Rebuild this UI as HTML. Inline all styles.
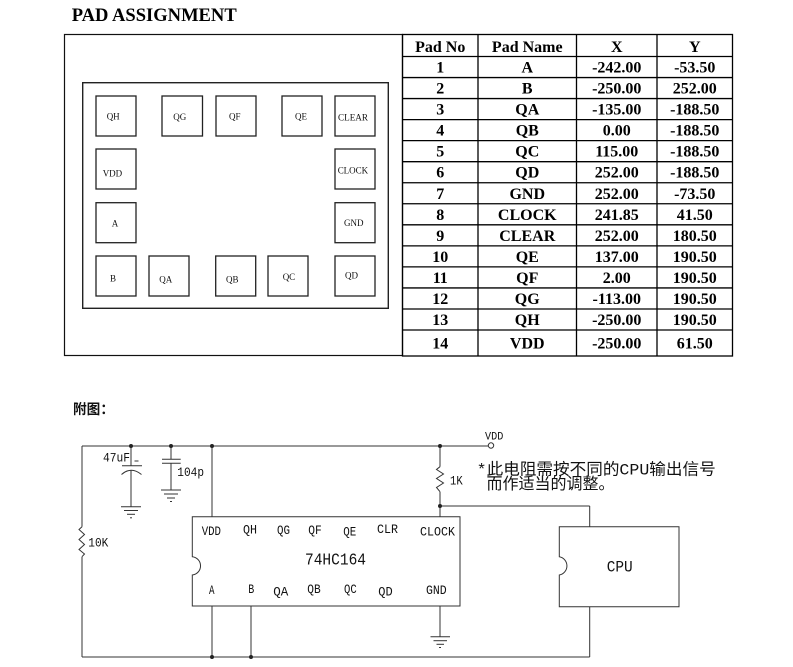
<!DOCTYPE html>
<html><head><meta charset="utf-8"><style>
html,body{margin:0;padding:0;background:#fff;}
svg{display:block;}
.tb{font-family:"Liberation Serif",serif;font-weight:bold;font-size:16px;fill:#000;text-anchor:middle;}
.pd{font-family:"Liberation Serif",serif;font-size:9px;fill:#111;}
.sc{font-family:"Liberation Mono",monospace;font-size:13px;fill:#111;}
.cj{font-family:"Liberation Mono","Noto Sans CJK SC",sans-serif;font-size:16px;fill:#111;}
</style></head><body>
<svg width="793" height="667" viewBox="0 0 793 667" xmlns="http://www.w3.org/2000/svg">
<rect width="793" height="667" fill="#fff"/>
<text x="71.7" y="21" font-family="Liberation Serif, serif" font-weight="bold" font-size="19" textLength="165" lengthAdjust="spacingAndGlyphs">PAD ASSIGNMENT</text>

<!-- left pad box -->
<rect x="64.5" y="34.5" width="338" height="321" fill="none" stroke="#111" stroke-width="1.2"/>
<rect x="82.7" y="82.7" width="305.6" height="225.6" fill="none" stroke="#222" stroke-width="1.4"/>
<g fill="none" stroke="#222" stroke-width="1.3">
<rect x="96" y="96" width="40" height="40"/>
<rect x="162" y="96" width="40.5" height="40"/>
<rect x="216" y="96" width="40" height="40"/>
<rect x="282" y="96" width="40" height="40"/>
<rect x="335" y="96" width="40" height="40"/>
<rect x="96" y="149" width="40" height="40"/>
<rect x="335" y="149" width="40" height="40"/>
<rect x="96" y="202.7" width="40" height="40"/>
<rect x="335" y="202.7" width="40" height="40"/>
<rect x="96" y="256" width="40" height="40"/>
<rect x="149" y="256" width="40" height="40"/>
<rect x="215.7" y="256" width="40" height="40"/>
<rect x="268" y="256" width="40" height="40"/>
<rect x="335" y="256" width="40" height="40"/>
</g>
<g class="pd">
<text x="106.7" y="119.5">QH</text>
<text x="173.3" y="120">QG</text>
<text x="229" y="119.5">QF</text>
<text x="295" y="119.5">QE</text>
<text x="338" y="120.7" textLength="30" lengthAdjust="spacingAndGlyphs">CLEAR</text>
<text x="102.7" y="176.7">VDD</text>
<text x="337.7" y="173.3" textLength="30.5" lengthAdjust="spacingAndGlyphs">CLOCK</text>
<text x="111.7" y="226.7">A</text>
<text x="344" y="226">GND</text>
<text x="110" y="281.7">B</text>
<text x="159.3" y="282.7">QA</text>
<text x="226" y="282.7">QB</text>
<text x="282.7" y="280">QC</text>
<text x="345" y="278.3">QD</text>
</g>

<!-- table -->
<g stroke="#000" stroke-width="1.3" fill="none">
<rect x="402.5" y="34.5" width="330" height="321.5"/>
<line x1="478" y1="34.5" x2="478" y2="356"/>
<line x1="576.5" y1="34.5" x2="576.5" y2="356"/>
<line x1="657" y1="34.5" x2="657" y2="356"/>
<line x1="402.5" y1="56.5" x2="732.5" y2="56.5"/>
<line x1="402.5" y1="77.54" x2="732.5" y2="77.54"/>
<line x1="402.5" y1="98.58" x2="732.5" y2="98.58"/>
<line x1="402.5" y1="119.62" x2="732.5" y2="119.62"/>
<line x1="402.5" y1="140.66" x2="732.5" y2="140.66"/>
<line x1="402.5" y1="161.7" x2="732.5" y2="161.7"/>
<line x1="402.5" y1="182.74" x2="732.5" y2="182.74"/>
<line x1="402.5" y1="203.78" x2="732.5" y2="203.78"/>
<line x1="402.5" y1="224.82" x2="732.5" y2="224.82"/>
<line x1="402.5" y1="245.86" x2="732.5" y2="245.86"/>
<line x1="402.5" y1="266.9" x2="732.5" y2="266.9"/>
<line x1="402.5" y1="287.94" x2="732.5" y2="287.94"/>
<line x1="402.5" y1="308.98" x2="732.5" y2="308.98"/>
<line x1="402.5" y1="330" x2="732.5" y2="330"/>
</g>
<g class="tb">
<text x="440.25" y="51.8">Pad No</text><text x="527.25" y="51.8">Pad Name</text><text x="616.75" y="51.8">X</text><text x="694.75" y="51.8">Y</text>
<text x="440.25" y="72.5">1</text><text x="527.25" y="72.5">A</text><text x="616.75" y="72.5">-242.00</text><text x="694.75" y="72.5">-53.50</text>
<text x="440.25" y="93.5">2</text><text x="527.25" y="93.5">B</text><text x="616.75" y="93.5">-250.00</text><text x="694.75" y="93.5">252.00</text>
<text x="440.25" y="114.6">3</text><text x="527.25" y="114.6">QA</text><text x="616.75" y="114.6">-135.00</text><text x="694.75" y="114.6">-188.50</text>
<text x="440.25" y="135.6">4</text><text x="527.25" y="135.6">QB</text><text x="616.75" y="135.6">0.00</text><text x="694.75" y="135.6">-188.50</text>
<text x="440.25" y="156.7">5</text><text x="527.25" y="156.7">QC</text><text x="616.75" y="156.7">115.00</text><text x="694.75" y="156.7">-188.50</text>
<text x="440.25" y="177.7">6</text><text x="527.25" y="177.7">QD</text><text x="616.75" y="177.7">252.00</text><text x="694.75" y="177.7">-188.50</text>
<text x="440.25" y="198.8">7</text><text x="527.25" y="198.8">GND</text><text x="616.75" y="198.8">252.00</text><text x="694.75" y="198.8">-73.50</text>
<text x="440.25" y="219.8">8</text><text x="527.25" y="219.8">CLOCK</text><text x="616.75" y="219.8">241.85</text><text x="694.75" y="219.8">41.50</text>
<text x="440.25" y="240.8">9</text><text x="527.25" y="240.8">CLEAR</text><text x="616.75" y="240.8">252.00</text><text x="694.75" y="240.8">180.50</text>
<text x="440.25" y="261.9">10</text><text x="527.25" y="261.9">QE</text><text x="616.75" y="261.9">137.00</text><text x="694.75" y="261.9">190.50</text>
<text x="440.25" y="282.9">11</text><text x="527.25" y="282.9">QF</text><text x="616.75" y="282.9">2.00</text><text x="694.75" y="282.9">190.50</text>
<text x="440.25" y="304">12</text><text x="527.25" y="304">QG</text><text x="616.75" y="304">-113.00</text><text x="694.75" y="304">190.50</text>
<text x="440.25" y="325">13</text><text x="527.25" y="325">QH</text><text x="616.75" y="325">-250.00</text><text x="694.75" y="325">190.50</text>
<text x="440.25" y="348.3">14</text><text x="527.25" y="348.3">VDD</text><text x="616.75" y="348.3">-250.00</text><text x="694.75" y="348.3">61.50</text>
</g>

<!-- schematic -->
<text x="73" y="414" font-family="'Noto Sans CJK SC', sans-serif" font-weight="bold" font-size="14" fill="#111" textLength="41" lengthAdjust="spacingAndGlyphs">附图：</text>

<g stroke="#333" stroke-width="1" fill="none">
<line x1="82" y1="446" x2="488.3" y2="446"/>
<circle cx="491" cy="445.5" r="2.7"/>
<line x1="82" y1="446" x2="82" y2="526.7"/>
<polyline points="82,526.7 79,529.5 84.5,534.5 79,539.5 84.5,544.5 79,549.5 84.5,554 82,556.7"/>
<line x1="82" y1="556.7" x2="82" y2="657"/>
<line x1="82" y1="657" x2="589.7" y2="657"/>
<line x1="589.7" y1="657" x2="589.7" y2="606.7"/>
<line x1="589.7" y1="526.7" x2="589.7" y2="506"/>
<line x1="440" y1="506" x2="589.7" y2="506"/>
<line x1="131" y1="446" x2="131" y2="465.7"/>
<line x1="122" y1="465.7" x2="142" y2="465.7"/>
<path d="M121.5,474.5 Q131,466 141.5,474.5"/>
<line x1="131" y1="470" x2="131" y2="506.7"/>
<line x1="121" y1="506.7" x2="141" y2="506.7"/>
<line x1="124" y1="510.5" x2="138" y2="510.5"/>
<line x1="127" y1="514.3" x2="135" y2="514.3"/>
<line x1="130" y1="517.8" x2="132" y2="517.8"/>
<line x1="134.5" y1="461" x2="138.5" y2="461"/>
<line x1="171" y1="446" x2="171" y2="459.3"/>
<line x1="162" y1="459.3" x2="180.7" y2="459.3"/>
<line x1="162" y1="463.3" x2="180.7" y2="463.3"/>
<line x1="171" y1="463.3" x2="171" y2="490"/>
<line x1="161" y1="490" x2="181" y2="490"/>
<line x1="164" y1="494" x2="178" y2="494"/>
<line x1="167" y1="498" x2="175" y2="498"/>
<line x1="170" y1="501.5" x2="172" y2="501.5"/>
<line x1="212" y1="446" x2="212" y2="516.7"/>
<line x1="440" y1="446" x2="440" y2="466.7"/>
<polyline points="440,466.7 436.5,469.5 443.5,474 436.5,478.5 443.5,483 436.5,487.5 440,491.7"/>
<line x1="440" y1="491.7" x2="440" y2="516.7"/>
<path d="M192.3,516.7 H460 V606 H192.3 V575 A9.2,9.2 0 0 0 192.3,556.7 Z"/>
<line x1="212" y1="606" x2="212" y2="657"/>
<line x1="251" y1="606" x2="251" y2="657"/>
<line x1="440" y1="606" x2="440" y2="636.7"/>
<line x1="430.5" y1="636.7" x2="450" y2="636.7"/>
<line x1="433.5" y1="640.7" x2="447" y2="640.7"/>
<line x1="436.5" y1="644.3" x2="444" y2="644.3"/>
<line x1="439" y1="647.5" x2="441" y2="647.5"/>
<path d="M559.3,526.7 H679 V606.7 H559.3 V575 A9.3,9.3 0 0 0 559.3,556.7 Z"/>
</g>
<g fill="#222">
<circle cx="131" cy="446" r="2"/>
<circle cx="171" cy="446" r="2"/>
<circle cx="212" cy="446" r="2"/>
<circle cx="440" cy="446" r="2"/>
<circle cx="440" cy="506" r="2"/>
<circle cx="212" cy="657" r="2"/>
<circle cx="251" cy="657" r="2"/>
</g>

<g class="sc">
<text x="103" y="461.5" textLength="27" lengthAdjust="spacingAndGlyphs">47uF</text>
<text x="177.3" y="476" textLength="26.7" lengthAdjust="spacingAndGlyphs">104p</text>
<text x="450" y="484.3" textLength="12.7" lengthAdjust="spacingAndGlyphs">1K</text>
<text x="88.3" y="546.7" textLength="20" lengthAdjust="spacingAndGlyphs">10K</text>
<text x="485" y="439.3" font-size="11" textLength="18.3" lengthAdjust="spacingAndGlyphs">VDD</text>

<text x="201.7" y="535" textLength="19.3" lengthAdjust="spacingAndGlyphs">VDD</text>
<text x="243" y="533.5" textLength="14" lengthAdjust="spacingAndGlyphs">QH</text>
<text x="277" y="534" textLength="13" lengthAdjust="spacingAndGlyphs">QG</text>
<text x="308.3" y="534" textLength="13.5" lengthAdjust="spacingAndGlyphs">QF</text>
<text x="343.3" y="535.7" textLength="13" lengthAdjust="spacingAndGlyphs">QE</text>
<text x="377" y="533" textLength="21" lengthAdjust="spacingAndGlyphs">CLR</text>
<text x="420" y="535.5" textLength="35" lengthAdjust="spacingAndGlyphs">CLOCK</text>

<text x="305" y="564.3" font-size="16.5" textLength="61" lengthAdjust="spacingAndGlyphs">74HC164</text>

<text x="209" y="594" textLength="5.5" lengthAdjust="spacingAndGlyphs">A</text>
<text x="248.3" y="593" textLength="6" lengthAdjust="spacingAndGlyphs">B</text>
<text x="273.3" y="595.5" textLength="15" lengthAdjust="spacingAndGlyphs">QA</text>
<text x="307.3" y="593" textLength="13.4" lengthAdjust="spacingAndGlyphs">QB</text>
<text x="344" y="593" textLength="12.7" lengthAdjust="spacingAndGlyphs">QC</text>
<text x="378.3" y="595.5" textLength="14.4" lengthAdjust="spacingAndGlyphs">QD</text>
<text x="426" y="594" textLength="20.7" lengthAdjust="spacingAndGlyphs">GND</text>

<text x="606.7" y="571.7" font-size="16" textLength="26" lengthAdjust="spacingAndGlyphs">CPU</text>
</g>

<text class="cj" x="476.7" y="474.5" textLength="239" lengthAdjust="spacingAndGlyphs">*此电阻需按不同的CPU输出信号</text>
<text class="cj" x="486.5" y="489" textLength="128" lengthAdjust="spacingAndGlyphs">而作适当的调整。</text>
</svg>
</body></html>
